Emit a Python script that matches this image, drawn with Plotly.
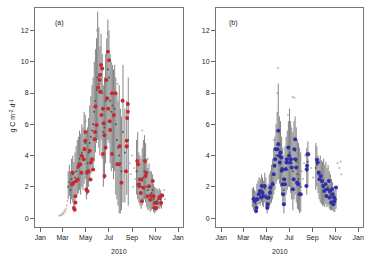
import pandas as pd
import plotly.graph_objects as go

# ---------------- data (day of year 2010) ----------------
# Panel (a): model estimates (median with uncertainty range)
a_gray_doy = [74, 77, 80, 83, 86, 89, 92, 95, 98, 101, 104, 107, 110, 113, 116, 119, 122, 125, 128, 131,
              134, 137, 140, 143, 146, 149, 152, 155, 158, 161, 164, 167, 170, 173, 176, 179, 182, 185, 188, 191,
              194, 197, 200, 203, 206, 209, 212, 215, 219, 224, 229, 233,
              255, 258, 261, 264, 267, 270, 273, 276, 279, 282, 285, 288, 291, 294, 297, 300, 303, 306, 309, 312,
              315, 318, 321]
a_gray_med = [2.0, 2.3, 1.8, 2.5, 2.8, 2.2, 2.6, 3.0, 3.2, 3.5, 3.8, 3.4, 4.2, 3.9, 4.5, 4.8, 3.0, 3.5, 4.2, 4.8,
              5.2, 5.6, 6.0, 6.8, 7.5, 8.2, 9.0, 8.6, 8.0, 9.2, 8.0, 5.5, 5.8, 7.5, 8.8, 9.5, 9.0, 7.5, 6.8, 7.2,
              6.5, 7.0, 6.0, 5.0, 4.5, 4.0, 3.5, 3.0, 5.5, 4.2, 4.5, 5.0,
              3.0, 3.5, 2.5, 2.2, 2.0, 2.4, 2.6, 3.0, 2.8, 2.0, 1.8, 2.0, 1.5, 1.6, 1.8, 1.2, 1.0, 1.0, 1.1, 1.2,
              1.3, 1.2, 1.0]
a_gray_lo = [1.2, 1.4, 0.9, 1.2, 1.0, 0.5, 0.8, 1.4, 1.5, 1.6, 1.8, 1.5, 2.0, 1.8, 2.2, 2.5, 1.2, 1.5, 2.0, 2.5,
             2.8, 3.0, 3.2, 3.6, 4.2, 4.8, 5.0, 4.5, 4.0, 5.0, 3.8, 2.0, 2.5, 3.5, 4.5, 5.0, 4.8, 3.5, 3.0, 3.2,
             2.5, 3.0, 1.5, 1.2, 0.8, 0.3, 0.3, 0.5, 1.0, 1.0, 1.5, 0.8,
             1.5, 1.2, 1.0, 0.8, 0.6, 0.8, 1.0, 1.2, 1.0, 0.7, 0.5, 0.6, 0.4, 0.5, 0.6, 0.4, 0.3, 0.4, 0.5, 0.6,
             0.6, 0.7, 0.6]
a_gray_hi = [3.0, 3.4, 3.0, 3.8, 4.0, 3.6, 4.2, 4.6, 5.0, 5.2, 5.6, 5.4, 6.0, 5.8, 6.8, 6.6, 5.4, 5.8, 6.4, 7.2,
             7.8, 8.5, 9.0, 10.0, 10.8, 11.5, 13.2, 12.2, 11.0, 11.8, 10.5, 8.5, 9.0, 10.5, 11.5, 12.7, 12.0, 10.5, 10.0, 9.8,
             9.5, 9.8, 9.0, 8.0, 7.5, 8.5, 7.0, 6.5, 9.8, 7.0, 7.5, 9.0,
             5.0, 5.5, 4.2, 4.0, 3.8, 4.5, 5.0, 5.3, 4.8, 3.8, 3.2, 3.5, 3.0, 3.0, 2.8, 2.2, 2.0, 1.9, 1.9, 1.8,
             1.9, 1.8, 1.6]
# Panel (a): scattered individual estimates
a_dot_doy = [50, 53, 56, 58, 60, 62, 64, 66, 68, 70, 72, 237, 240, 243, 246, 249, 252, 325, 328, 330,
             120, 150, 178, 205, 270, 285]
a_dot_val = [0.15, 0.2, 0.18, 0.3, 0.35, 0.25, 0.5, 0.4, 0.6, 0.8, 1.1, 3.5, 2.8, 4.0, 2.0, 3.2, 2.5, 1.5, 1.8, 1.2,
             6.2, 12.0, 11.8, 8.6, 5.6, 3.8]
# Panel (a): observations (red)
a_obs_doy = [84, 86, 88, 89, 91, 93, 93, 95, 99, 101, 106, 109, 110, 115, 117, 119, 120, 122, 125, 124,
             128, 131, 134, 137, 133, 140, 144, 145, 146, 149, 153, 157, 158, 159, 161, 164, 166, 162, 168, 175,
             177, 179, 182, 180, 184, 185, 190, 195, 199, 166, 170, 173, 170, 190, 204, 208, 210, 215, 218, 229,
             229, 227, 232, 232, 230, 257, 259, 260, 262, 264, 268, 266, 269, 273, 277, 279, 281, 284, 288, 291,
             295, 298, 300, 302, 304, 307, 309, 315, 318, 320, 323]
a_obs_val = [2.15, 2.9, 2.26, 0.65, 0.54, 1.4, 1.0, 2.37, 2.47, 3.33, 3.44, 2.9, 3.98, 3.76, 4.4, 4.95, 5.5, 1.83, 1.72, 2.9,
             3.0, 4.3, 3.55, 3.76, 2.47, 3.1, 5.05, 5.5, 7.13, 5.96, 8.36, 8.83, 9.15, 8.1, 9.79, 9.57, 7.0, 6.6, 6.06, 8.83,
             7.66, 10.64, 10.1, 7.0, 6.2, 5.64, 7.98, 6.6, 7.98, 4.1, 2.7, 4.5, 5.3, 4.1, 3.44, 3.44, 4.6, 2.26, 7.5, 4.95,
             4.6, 3.0, 7.3, 6.8, 6.4, 3.65, 3.44, 2.15, 2.04, 2.47, 2.47, 1.6, 1.07, 1.94, 3.65, 2.7, 2.9, 1.4, 2.04, 1.18,
             1.4, 2.37, 1.4, 0.65, 0.97, 0.65, 0.97, 1.3, 1.4, 0.97, 1.45]

# Panel (b): model estimates
b_gray_doy = [83, 86, 89, 92, 95, 98, 101, 104, 107, 110, 113, 116, 119, 122, 125, 128, 131, 134, 137, 140,
              143, 146, 149, 152, 155, 158, 161, 164, 167, 170, 173, 176, 179, 182, 185, 188, 191, 194, 197, 200,
              203, 206, 209, 212, 228, 231,
              252, 255, 258, 261, 264, 267, 270, 273, 276, 279, 282, 285, 288, 291, 294, 297, 300, 303, 306]
b_gray_med = [1.2, 1.1, 1.0, 0.9, 1.3, 1.5, 1.6, 1.5, 1.8, 1.6, 1.4, 1.9, 1.5, 1.0, 1.2, 1.5, 1.8, 2.0, 2.3, 2.8,
              3.4, 4.0, 4.4, 4.8, 4.2, 4.0, 3.2, 2.5, 1.8, 2.4, 3.2, 3.6, 4.0, 4.2, 3.8, 3.5, 3.0, 3.8, 4.3, 3.6,
              2.8, 2.5, 2.2, 2.0, 3.0, 3.6,
              3.2, 3.4, 2.8, 2.5, 2.6, 2.3, 2.1, 2.0, 1.9, 2.2, 1.8, 2.0, 1.6, 1.5, 1.4, 1.3, 1.1, 1.0, 1.2]
b_gray_lo = [0.7, 0.5, 0.4, 0.3, 0.6, 0.8, 0.9, 0.8, 1.0, 0.8, 0.7, 1.0, 0.6, 0.3, 0.5, 0.7, 0.9, 1.0, 1.2, 1.5,
             1.8, 2.2, 2.4, 2.5, 2.2, 2.0, 1.5, 0.8, 0.3, 0.8, 1.5, 1.8, 2.0, 2.0, 1.6, 1.2, 0.5, 1.2, 1.5, 1.0,
             0.6, 0.5, 0.3, 0.4, 1.5, 2.0,
             1.8, 2.0, 1.6, 1.2, 1.0, 0.9, 0.8, 0.8, 0.7, 0.9, 0.7, 0.8, 0.6, 0.5, 0.5, 0.5, 0.4, 0.4, 0.6]
b_gray_hi = [1.9, 2.0, 1.8, 1.7, 2.2, 2.4, 2.6, 2.5, 2.8, 2.6, 2.4, 2.9, 2.6, 2.0, 2.2, 2.8, 3.0, 3.4, 3.8, 4.5,
             5.2, 6.0, 6.8, 8.6, 6.5, 6.2, 5.2, 4.5, 4.0, 4.6, 5.2, 5.6, 6.2, 7.0, 6.2, 5.8, 5.5, 6.2, 6.5, 5.8,
             5.0, 4.8, 4.5, 4.2, 4.5, 4.9,
             4.8, 4.6, 4.0, 3.8, 4.0, 3.7, 3.6, 3.8, 3.4, 3.6, 3.2, 3.4, 3.0, 2.8, 2.5, 2.3, 2.0, 1.8, 2.0]
b_dot_doy = [151, 150, 195, 190, 215, 218, 221, 224, 310, 315, 320, 318, 240, 245, 140, 178]
b_dot_val = [9.6, 8.0, 7.7, 7.75, 3.0, 2.5, 3.5, 4.0, 3.5, 3.2, 2.8, 3.6, 3.2, 2.6, 5.0, 6.6]
# Panel (b): observations (blue)
b_obs_doy = [87, 90, 93, 94, 96, 100, 103, 106, 108, 110, 112, 116, 121, 123, 124, 126, 130, 131, 137, 140,
             142, 144, 145, 150, 152, 152, 154, 156, 158, 160, 161, 163, 164, 165, 167, 168, 170, 172, 174, 175,
             179, 181, 183, 186, 188, 191, 193, 195, 197, 198, 200, 202, 205, 209, 212, 227, 228, 230, 232, 229,
             255, 257, 260, 262, 265, 269, 272, 275, 278, 280, 283, 287, 288, 290, 293, 295, 297, 299, 301, 302,
             306]
b_obs_val = [1.24, 1.09, 0.45, 0.66, 1.2, 1.52, 1.73, 1.31, 2.06, 1.63, 1.41, 2.06, 1.31, 0.66, 0.88, 1.31, 1.63, 1.95, 2.16, 2.8,
             3.34, 3.77, 4.41, 4.41, 5.59, 4.73, 3.98, 3.55, 4.2, 3.88, 3.02, 3.13, 2.16, 1.52, 0.88, 2.48, 2.16, 3.13, 3.55, 3.77,
             4.52, 3.98, 3.55, 3.77, 3.23, 1.84, 2.48, 4.41, 5.05, 3.77, 3.23, 2.27, 2.16, 1.52, 1.52, 2.06, 3.13, 4.09, 4.09, 3.34,
             3.73, 3.55, 2.91, 2.48, 2.7, 2.38, 2.06, 1.73, 2.16, 1.41, 1.84, 2.38, 1.31, 1.73, 0.99, 1.84, 1.52, 0.88, 1.31, 1.09,
             1.95]

x_tick_dates = ["2010-01-01", "2010-03-01", "2010-05-01", "2010-07-01", "2010-09-01", "2010-11-01", "2011-01-01"]
x_tick_text = ["Jan", "Mar", "May", "Jul", "Sep", "Nov", "Jan"]
y_ticks = [0, 2, 4, 6, 8, 10, 12]

# ---------------- figure ----------------
base = pd.Timestamp("2010-01-01")


def to_dates(doys):
    return [base + pd.Timedelta(days=d) for d in doys]


FONT = "Liberation Sans, Arial, sans-serif"
TXT = "#222222"
fig = go.Figure()


def add_panel(xa, ya, gdoy, gmed, glo, ghi, ddoy, dval, odoy, oval, ocolor):
    fig.add_trace(go.Scatter(
        x=to_dates(ddoy), y=dval, mode="markers", xaxis=xa, yaxis=ya,
        marker=dict(size=2, color="#b8b8b8"), showlegend=False, hoverinfo="skip"))
    fig.add_trace(go.Scatter(
        x=to_dates(gdoy), y=gmed, mode="markers", xaxis=xa, yaxis=ya,
        marker=dict(size=2, color="#555555"),
        error_y=dict(type="data", symmetric=False,
                     array=[h - m for h, m in zip(ghi, gmed)],
                     arrayminus=[m - l for m, l in zip(gmed, glo)],
                     color="#858585", thickness=1, width=0),
        showlegend=False))
    fig.add_trace(go.Scatter(
        x=to_dates(odoy), y=oval, mode="markers", xaxis=xa, yaxis=ya,
        marker=dict(size=4, color=ocolor, line=dict(width=0)), showlegend=False))


add_panel("x", "y", a_gray_doy, a_gray_med, a_gray_lo, a_gray_hi, a_dot_doy, a_dot_val,
          a_obs_doy, a_obs_val, "#c62a2f")
add_panel("x2", "y2", b_gray_doy, b_gray_med, b_gray_lo, b_gray_hi, b_dot_doy, b_dot_val,
          b_obs_doy, b_obs_val, "#2f2fae")

W, H = 366, 262
ydom = [1 - 227 / H, 1 - 7.5 / H]
xdomA = [35 / W, 183 / W]
xdomB = [216 / W, 363 / W]
xrange_ = ["2009-12-18", "2011-01-14"]

xcommon = dict(type="date", range=xrange_, tickvals=x_tick_dates, ticktext=x_tick_text,
               ticks="outside", ticklen=4, tickcolor="#666", tickwidth=1,
               showline=True, linecolor="#777", linewidth=1, mirror=True,
               showgrid=False, zeroline=False,
               tickfont=dict(size=7, color=TXT, family=FONT))
ycommon = dict(range=[-0.57, 13.47], tickvals=y_ticks, ticks="outside", ticklen=4,
               tickcolor="#666", tickwidth=1, showline=True, linecolor="#777", linewidth=1,
               mirror=True, showgrid=False, zeroline=False,
               tickfont=dict(size=7, color=TXT, family=FONT))

fig.update_layout(
    width=W, height=H, margin=dict(l=0, r=0, t=0, b=0),
    paper_bgcolor="white", plot_bgcolor="white",
    xaxis=dict(domain=xdomA, anchor="y", **xcommon),
    yaxis=dict(domain=ydom, anchor="x", **ycommon),
    xaxis2=dict(domain=xdomB, anchor="y2", **xcommon),
    yaxis2=dict(domain=ydom, anchor="x2", **ycommon),
    annotations=[
        dict(text="(a)", x=52.5 / W, y=1 - 17 / H, xref="paper", yref="paper", showarrow=False,
             font=dict(size=7, color=TXT, family=FONT)),
        dict(text="(b)", x=233 / W, y=1 - 17 / H, xref="paper", yref="paper", showarrow=False,
             font=dict(size=7, color=TXT, family=FONT)),
        dict(text="2010", x=109 / W, y=1 - 257 / H, xref="paper", yref="paper", showarrow=False,
             font=dict(size=7, color=TXT, family=FONT)),
        dict(text="2010", x=290 / W, y=1 - 257 / H, xref="paper", yref="paper", showarrow=False,
             font=dict(size=7, color=TXT, family=FONT)),
        dict(text="g C m<sup>-2</sup> d<sup>-1</sup>", x=6 / W, y=1 - 116 / H, xref="paper", yref="paper",
             showarrow=False, textangle=-90,
             font=dict(size=7, color=TXT, family=FONT)),
    ],
)

fig.write_html("out.html")
